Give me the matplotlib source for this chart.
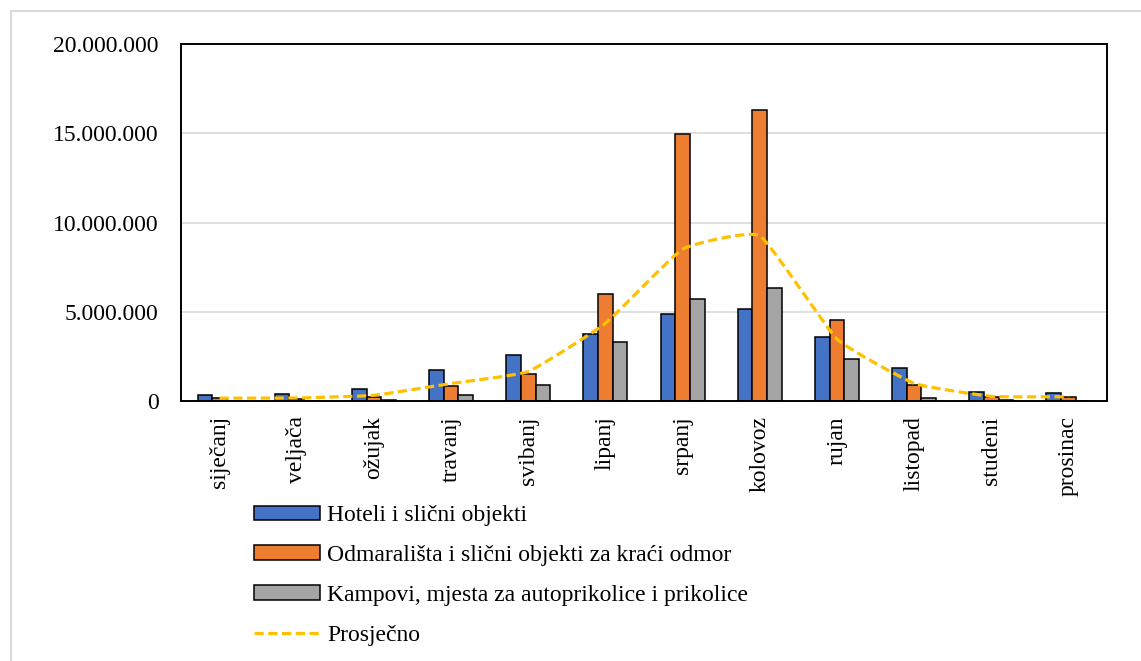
import numpy as np
import matplotlib
matplotlib.use("Agg")
import matplotlib.pyplot as plt
from matplotlib.path import Path
from matplotlib.patches import PathPatch
from matplotlib.lines import Line2D
from matplotlib.ticker import FuncFormatter, MultipleLocator

# months (Croatian)
months = ["siječanj", "veljača", "ožujak", "travanj", "svibanj", "lipanj",
          "srpanj", "kolovoz", "rujan", "listopad", "studeni", "prosinac"]

# values (millions)
hoteli = [0.32, 0.40, 0.68, 1.75, 2.55, 3.75, 4.85, 5.15, 3.56, 1.87, 0.52, 0.45]
odmaralista = [0.15, 0.10, 0.23, 0.83, 1.50, 6.00, 14.97, 16.30, 4.52, 0.90, 0.22, 0.24]
kampovi = [0.02, 0.02, 0.05, 0.36, 0.90, 3.30, 5.71, 6.33, 2.34, 0.19, 0.03, 0.02]
prosjecno = [0.16, 0.17, 0.32, 0.98, 1.65, 4.35, 8.51, 9.26, 3.47, 0.99, 0.26, 0.24]

series_names = ["Hoteli i slični objekti",
                "Odmarališta i slični objekti za kraći odmor",
                "Kampovi, mjesta za autoprikolice i prikolice",
                "Prosječno"]
colors = ["#4472C4", "#ED7D31", "#A5A5A5"]
line_color = "#FFC000"

plt.rcParams["font.family"] = ["Liberation Serif", "DejaVu Serif"]
plt.rcParams["font.size"] = 17

fig = plt.figure(figsize=(11.41, 6.61), dpi=100)
W, H = 1141, 661
ax = fig.add_axes([181 / W, 1 - 401 / H, (1107 - 181) / W, (401 - 44) / H])

x = np.arange(len(months))
bw = 0.19
for i, (vals, c) in enumerate(zip([hoteli, odmaralista, kampovi], colors)):
    ax.bar(x + (i - 1) * bw, np.array(vals) * 1e6, bw, color=c,
           edgecolor="black", linewidth=1.1, zorder=2)

# smoothed average line (light Bezier smoothing, close to Excel's look)
py = np.array(prosjecno) * 1e6
pts = np.column_stack([x, py])
verts = [pts[0]]
codes = [Path.MOVETO]
n = len(pts)
k = 1 / 16
for i in range(n - 1):
    p0 = pts[i - 1] if i > 0 else pts[i]
    p1 = pts[i]
    p2 = pts[i + 1]
    p3 = pts[i + 2] if i + 2 < n else pts[i + 1]
    c1 = p1 + (p2 - p0) * k
    c2 = p2 - (p3 - p1) * k
    verts += [c1, c2, p2]
    codes += [Path.CURVE4] * 3
dash = (0, (2.9, 1.4))
avg_patch = PathPatch(Path(verts, codes), fill=False, edgecolor=line_color,
                      linewidth=2.3, linestyle=dash, zorder=3)
ax.add_patch(avg_patch)

ax.set_xlim(-0.5, len(months) - 0.5)
ax.set_ylim(0, 20e6)
ax.yaxis.set_major_locator(MultipleLocator(5e6))
ax.yaxis.set_major_formatter(FuncFormatter(lambda v, p: f"{int(v):,}".replace(",", ".")))
ax.set_xticks(x)
ax.set_xticklabels(months, rotation=90)
ax.tick_params(length=0)
ax.tick_params(axis="y", pad=16)
ax.tick_params(axis="x", pad=11)
ax.grid(axis="y", color="#D9D9D9", linewidth=1.2, zorder=0)
ax.set_axisbelow(True)
for s in ax.spines.values():
    s.set_linewidth(1.4)
    s.set_color("black")

# legend below the plot
handles = [plt.Rectangle((0, 0), 1, 1, facecolor=c, edgecolor="black", linewidth=1.1)
           for c in colors]
handles.append(Line2D([0], [0], color=line_color, linewidth=2.3, linestyle=dash))
fig.legend(handles, series_names, loc="upper left",
           bbox_to_anchor=(254 / W, 1 - 505 / H), frameon=False,
           handlelength=2.8, handleheight=0.55, handletextpad=0.3,
           labelspacing=0.8, borderpad=0, borderaxespad=0)

# outer light frame (left and top edges)
fig.add_artist(Line2D([10.5 / W, 10.5 / W], [0, 1 - 10.5 / H], color="#D9D9D9", linewidth=1.5))
fig.add_artist(Line2D([10.5 / W, 1], [1 - 10.5 / H, 1 - 10.5 / H], color="#D9D9D9", linewidth=1.5))

fig.savefig("out.png", dpi=100)
